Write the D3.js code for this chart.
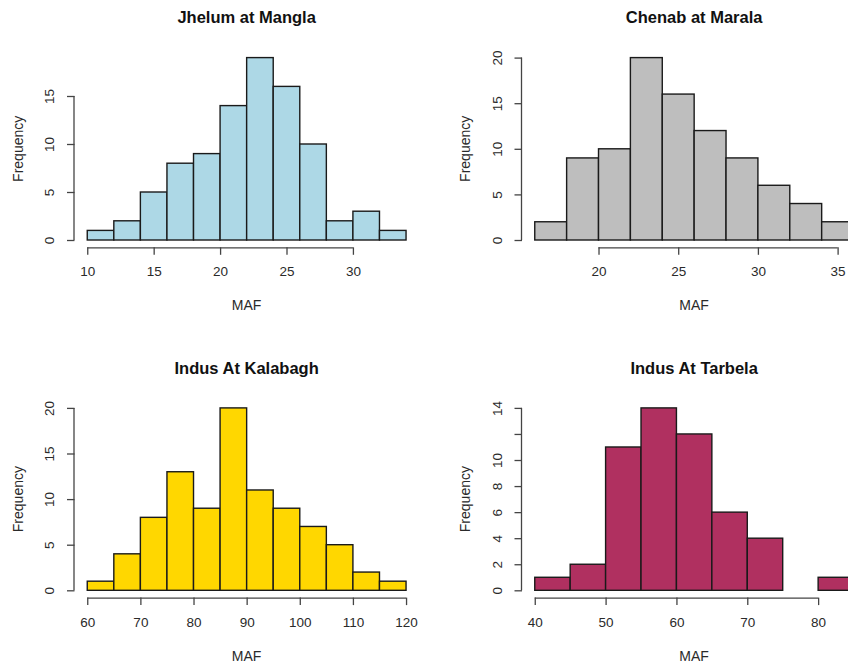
<!DOCTYPE html>
<html>
<head>
<meta charset="utf-8">
<script src="https://cdn.jsdelivr.net/npm/d3@7"></script>
<style>
  html, body { margin: 0; padding: 0; background: #fff; }
  svg { display: block; font-family: "Liberation Sans", Arial, Helvetica, sans-serif; }
</style>
</head>
<body>
<svg id="chart" width="848" height="666"></svg>
<script>
// ---- Data ----
const jhelumTitle = "Jhelum at Mangla";
const jhelumBreaks = [10, 12, 14, 16, 18, 20, 22, 24, 26, 28, 30, 32, 34];
const jhelumCounts = [1, 2, 5, 8, 9, 14, 19, 16, 10, 2, 3, 1];
const jhelumXTicks = [10, 15, 20, 25, 30];
const jhelumYTicks = [0, 5, 10, 15];
const jhelumYLabels = ["0", "5", "10", "15"];

const chenabTitle = "Chenab at Marala";
const chenabBreaks = [16, 18, 20, 22, 24, 26, 28, 30, 32, 34, 36];
const chenabCounts = [2, 9, 10, 20, 16, 12, 9, 6, 4, 2];
const chenabXTicks = [20, 25, 30, 35];
const chenabYTicks = [0, 5, 10, 15, 20];
const chenabYLabels = ["0", "5", "10", "15", "20"];

const kalabaghTitle = "Indus At Kalabagh";
const kalabaghBreaks = [60, 65, 70, 75, 80, 85, 90, 95, 100, 105, 110, 115, 120];
const kalabaghCounts = [1, 4, 8, 13, 9, 20, 11, 9, 7, 5, 2, 1];
const kalabaghXTicks = [60, 70, 80, 90, 100, 110, 120];
const kalabaghYTicks = [0, 5, 10, 15, 20];
const kalabaghYLabels = ["0", "5", "10", "15", "20"];

const tarbelaTitle = "Indus At Tarbela";
const tarbelaBreaks = [40, 45, 50, 55, 60, 65, 70, 75, 80, 85];
const tarbelaCounts = [1, 2, 11, 14, 12, 6, 4, 0, 1];
const tarbelaXTicks = [40, 50, 60, 70, 80];
const tarbelaYTicks = [0, 2, 4, 6, 8, 10, 12, 14];
const tarbelaYLabels = ["0", "2", "4", "6", "8", "10", "", "14"];

const xTitle = "MAF";
const yTitle = "Frequency";

const panels = [
  { title: jhelumTitle, breaks: jhelumBreaks, counts: jhelumCounts, xt: jhelumXTicks, yt: jhelumYTicks, yl: jhelumYLabels, fill: "#ADD8E6", col: 0, row: 0 },
  { title: chenabTitle, breaks: chenabBreaks, counts: chenabCounts, xt: chenabXTicks, yt: chenabYTicks, yl: chenabYLabels, fill: "#BEBEBE", col: 1, row: 0 },
  { title: kalabaghTitle, breaks: kalabaghBreaks, counts: kalabaghCounts, xt: kalabaghXTicks, yt: kalabaghYTicks, yl: kalabaghYLabels, fill: "#FFD700", col: 0, row: 1 },
  { title: tarbelaTitle, breaks: tarbelaBreaks, counts: tarbelaCounts, xt: tarbelaXTicks, yt: tarbelaYTicks, yl: tarbelaYLabels, fill: "#B03060", col: 1, row: 1 }
];

// ---- Layout ----
const colLeft = [74.5, 522];
const plotW = 344.3;
const rowTop = [50.3, 400.6];
const plotH = 197;
const axisColor = "#444";
const textColor = "#2a2a2a";
const tickFont = 13.5;
const labFont = 14;
const titleFont = 16.5;

const svg = d3.select("#chart");

panels.forEach(p => {
  const x0 = colLeft[p.col], y0 = rowTop[p.row];
  const xmin = p.breaks[0], xmax = p.breaks[p.breaks.length - 1];
  const ymax = d3.max(p.counts);
  const xpad = (xmax - xmin) * 0.04, ypad = ymax * 0.04;
  const x = d3.scaleLinear().domain([xmin - xpad, xmax + xpad]).range([x0, x0 + plotW]);
  const y = d3.scaleLinear().domain([-ypad, ymax + ypad]).range([y0 + plotH, y0]);

  const g = svg.append("g");

  const bins = p.counts.map((c, i) => ({ a: p.breaks[i], b: p.breaks[i + 1], c }));
  g.selectAll("rect.bar").data(bins).enter().append("rect")
    .attr("class", "bar")
    .attr("x", d => x(d.a))
    .attr("y", d => y(d.c))
    .attr("width", d => x(d.b) - x(d.a))
    .attr("height", d => y(0) - y(d.c))
    .attr("fill", p.fill)
    .attr("stroke", "#1a1a1a")
    .attr("stroke-width", 1.4);

  // x axis
  const xAxis = d3.axisBottom(x).tickValues(p.xt).tickSize(7.5).tickPadding(12).tickSizeOuter(0)
    .tickFormat(d3.format("d"));
  const xg = g.append("g").attr("transform", `translate(0,${y0 + plotH})`).call(xAxis);
  xg.select(".domain").attr("d", `M${x(p.xt[0])},0.5H${x(p.xt[p.xt.length - 1])}`);
  xg.selectAll("path, line").attr("stroke", axisColor).attr("stroke-width", 1.3);
  xg.selectAll("text").attr("fill", textColor).attr("font-size", tickFont).attr("font-family", null);

  // y axis
  const yAxis = d3.axisLeft(y).tickValues(p.yt).tickSize(7.5).tickPadding(0).tickSizeOuter(0)
    .tickFormat((d, i) => p.yl[i]);
  const yg = g.append("g").attr("transform", `translate(${x0},0)`).call(yAxis);
  yg.select(".domain").attr("d", `M-0.5,${y(p.yt[0])}V${y(p.yt[p.yt.length - 1])}`);
  yg.selectAll("path, line").attr("stroke", axisColor).attr("stroke-width", 1.3);
  yg.selectAll(".tick text")
    .attr("x", null).attr("dy", null)
    .attr("text-anchor", "middle")
    .attr("transform", "translate(-25,0) rotate(-90)")
    .attr("dominant-baseline", "central")
    .attr("fill", textColor).attr("font-size", tickFont).attr("font-family", null);

  // titles
  const cx = x0 + plotW / 2;
  g.append("text").attr("x", cx).attr("y", y0 - 33)
    .attr("text-anchor", "middle").attr("dominant-baseline", "central")
    .attr("font-weight", "bold").attr("font-size", titleFont).attr("fill", "#111")
    .text(p.title);
  g.append("text").attr("x", cx).attr("y", y0 + plotH + 58)
    .attr("text-anchor", "middle").attr("dominant-baseline", "central")
    .attr("font-size", labFont).attr("fill", textColor)
    .text(xTitle);
  g.append("text")
    .attr("transform", `translate(${x0 - 57},${y0 + plotH / 2}) rotate(-90)`)
    .attr("text-anchor", "middle").attr("dominant-baseline", "central")
    .attr("font-size", labFont).attr("fill", textColor)
    .text(yTitle);
});
</script>
</body>
</html>
